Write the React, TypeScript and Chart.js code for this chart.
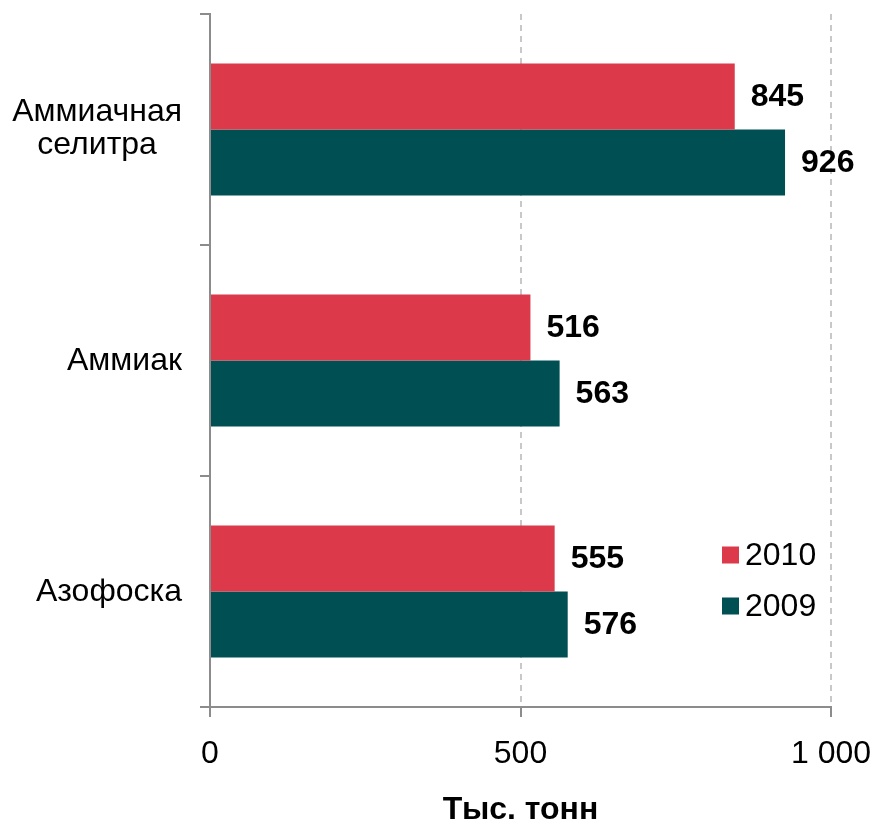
import { useEffect, useRef } from "react";
import { Chart, registerables } from "chart.js";

Chart.register(...registerables);

// Product categories (multi-line names are split into lines)
const categories: string[][] = [["Аммиачная", "селитра"], ["Аммиак"], ["Азофоска"]];
const seriesLabels = ["2010", "2009"];
const values2010 = [845, 516, 555];
const values2009 = [926, 563, 576];
const xTickValues = [0, 500, 1000];
const axisTitle = "Тыс. тонн";
const seriesColors = ["#DC3A4A", "#004F53"];

const FONT = "'Liberation Sans', Arial, sans-serif";
const AXIS_GRAY = "#8C8C8C";

const formatThousands = (v: number) =>
  String(v).replace(/\B(?=(\d{3})+(?!\d))/g, " ");

// Draws category names to the left of the y axis: each block is right-aligned,
// lines inside a block are centred on each other.
const categoryLabelsPlugin = {
  id: "categoryLabels",
  afterDraw(chart: any) {
    const { ctx } = chart;
    const yScale = chart.scales.y;
    const right = yScale.right - 28;
    const lineHeight = 33.4;
    ctx.save();
    ctx.font = `32px ${FONT}`;
    ctx.fillStyle = "#000";
    ctx.textAlign = "center";
    ctx.textBaseline = "middle";
    categories.forEach((lines, i) => {
      const n = lines.length;
      const cy = yScale.getPixelForValue(i) + 1;
      const widest = Math.max(...lines.map((l) => ctx.measureText(l).width));
      const cx = right - widest / 2;
      const top = cy - ((n - 1) * lineHeight) / 2 - (n - 1) * 2;
      lines.forEach((line, j) => ctx.fillText(line, cx, top + j * lineHeight));
    });
    ctx.restore();
  },
};

// Value labels to the right of each bar
const valueLabelsPlugin = {
  id: "valueLabels",
  afterDatasetsDraw(chart: any) {
    const { ctx } = chart;
    ctx.save();
    ctx.font = `bold 32px ${FONT}`;
    ctx.fillStyle = "#000";
    ctx.textAlign = "left";
    ctx.textBaseline = "middle";
    chart.data.datasets.forEach((ds: any, di: number) => {
      const meta = chart.getDatasetMeta(di);
      meta.data.forEach((bar: any, i: number) => {
        ctx.fillText(String(ds.data[i]), bar.x + 16, bar.y + 1);
      });
    });
    ctx.restore();
  },
};

// Legend placed inside the plot area, bottom-right
const insideLegendPlugin = {
  id: "insideLegend",
  afterDraw(chart: any) {
    const { ctx, chartArea } = chart;
    const x = chartArea.right - 109;
    const y0 = chartArea.bottom - 152;
    const step = 51;
    const box = 17;
    ctx.save();
    ctx.font = `32px ${FONT}`;
    ctx.textAlign = "left";
    ctx.textBaseline = "middle";
    chart.data.datasets.forEach((ds: any, i: number) => {
      const cy = y0 + i * step;
      ctx.fillStyle = ds.backgroundColor;
      ctx.fillRect(x, cy - box / 2, box, box);
      ctx.fillStyle = "#000";
      ctx.fillText(ds.label, x + 23, cy + 1);
    });
    ctx.restore();
  },
};

export default function App() {
  const canvasRef = useRef<HTMLCanvasElement | null>(null);

  useEffect(() => {
    const canvas = canvasRef.current;
    if (!canvas) return;
    const chart = new Chart(canvas, {
      type: "bar",
      data: {
        labels: categories.map((c) => c.join(" ")),
        datasets: [
          {
            label: seriesLabels[0],
            data: values2010,
            backgroundColor: seriesColors[0],
            categoryPercentage: 0.571,
            barPercentage: 1,
          },
          {
            label: seriesLabels[1],
            data: values2009,
            backgroundColor: seriesColors[1],
            categoryPercentage: 0.571,
            barPercentage: 1,
          },
        ],
      },
      options: {
        indexAxis: "y",
        responsive: false,
        animation: false,
        layout: { padding: { top: 14, right: 45, left: 0, bottom: 0 } },
        plugins: {
          legend: { display: false },
          tooltip: { enabled: false },
        },
        scales: {
          x: {
            type: "linear",
            min: xTickValues[0],
            max: xTickValues[xTickValues.length - 1],
            afterBuildTicks: (scale: any) => {
              scale.ticks = xTickValues.map((v) => ({ value: v }));
            },
            afterFit: (scale: any) => {
              scale.height = 119;
              scale.paddingLeft = 0;
              scale.paddingRight = 0;
            },
            ticks: {
              padding: 18,
              color: "#000",
              font: { family: FONT, size: 32 },
              callback: (v: any) => formatThousands(Number(v)),
            },
            grid: {
              color: (ctx: any) => (ctx.tick && ctx.tick.value === 0 ? "rgba(0,0,0,0)" : "#C8C8C8"),
              lineWidth: 2,
              drawTicks: true,
              tickLength: 10,
              tickColor: AXIS_GRAY,
              tickWidth: 2,
              tickBorderDash: [],
            },
            border: { display: true, color: AXIS_GRAY, width: 2, dash: [6, 5] },
            title: {
              display: true,
              text: axisTitle,
              color: "#000",
              font: { family: FONT, size: 32, weight: "bold", lineHeight: 1 },
              padding: { top: 0, bottom: 0 },
            },
          },
          y: {
            type: "category",
            afterFit: (scale: any) => {
              scale.width = 210;
            },
            ticks: { display: false },
            grid: {
              offset: true,
              drawOnChartArea: false,
              drawTicks: true,
              tickLength: 10,
              color: AXIS_GRAY,
              lineWidth: 2,
            },
            border: { display: true, color: AXIS_GRAY, width: 2 },
          },
        },
      },
      plugins: [categoryLabelsPlugin, valueLabelsPlugin, insideLegendPlugin],
    } as any);
    return () => chart.destroy();
  }, []);

  return (
    <div style={{ position: "absolute", left: 0, top: 0, width: 876, height: 826, background: "#fff" }}>
      <canvas ref={canvasRef} width={876} height={826} style={{ display: "block" }} />
    </div>
  );
}
